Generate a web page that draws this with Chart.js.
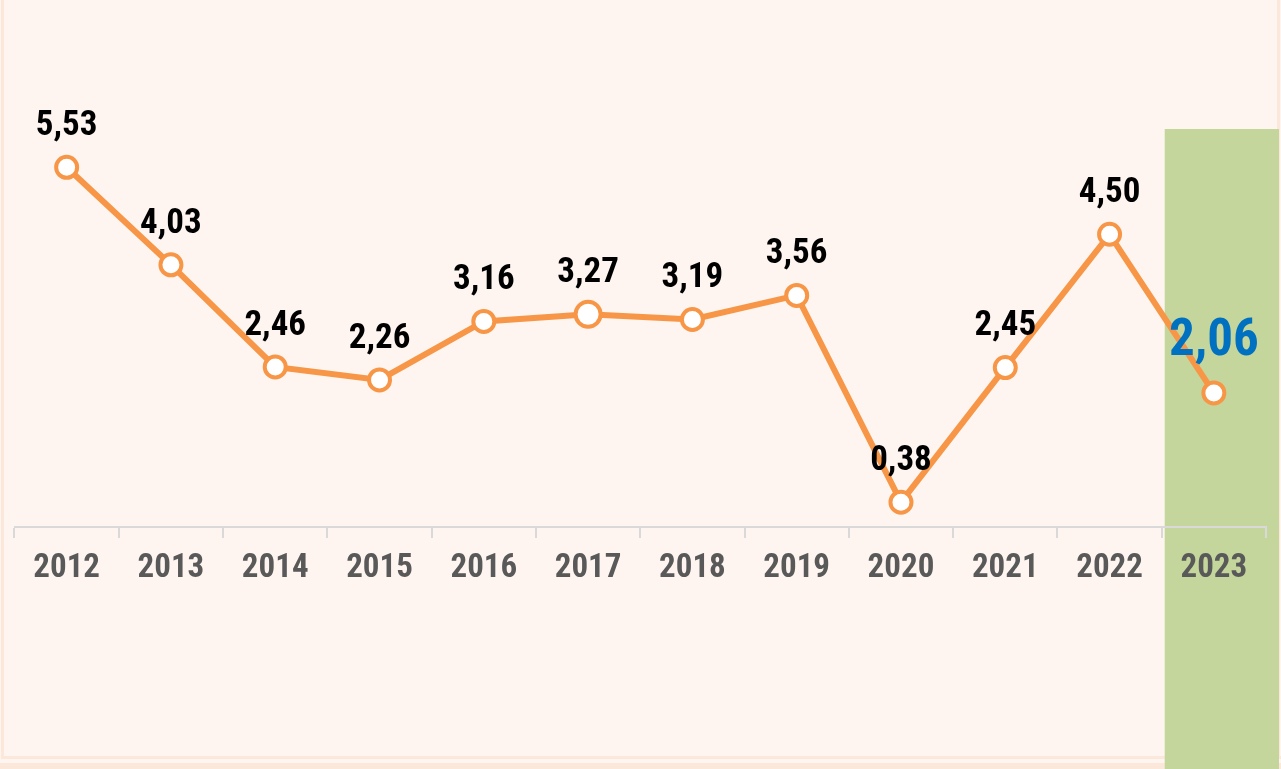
<!DOCTYPE html>
<html>
<head>
<meta charset="utf-8">
<title>2012-2023</title>
<script src="https://cdn.jsdelivr.net/npm/chart.js@4"></script>
<style>
    html, body { margin: 0; padding: 0; background: #fef5f0; overflow: hidden; }
    #wrap { position: relative; width: 1281px; height: 769px; }
</style>
</head>
<body>
<div id="wrap"><canvas id="grafico"></canvas></div>
<script>
// Dados
const anos = ['2012', '2013', '2014', '2015', '2016', '2017', '2018', '2019', '2020', '2021', '2022', '2023'];
const valores = [5.53, 4.03, 2.46, 2.26, 3.16, 3.27, 3.19, 3.56, 0.38, 2.45, 4.50, 2.06];

const fonteNarrow = '"Liberation Sans Narrow", "Arial Narrow", "Roboto Condensed", sans-serif';

function formatar(v) {
    return v.toFixed(2).replace('.', ',');
}

// Fundo, moldura e destaque verde do último ano
const fundoPlugin = {
    id: 'fundo',
    beforeDraw(chart) {
        const ctx = chart.ctx;
        const w = chart.width, h = chart.height;
        ctx.save();
        ctx.fillStyle = '#fef5f0';
        ctx.fillRect(0, 0, w, h);

        // moldura clara
        ctx.fillStyle = '#fce8da';
        ctx.fillRect(1, 0, 3, 759);
        ctx.fillRect(1, 756, w, 3);
        ctx.fillRect(0, 763, w, 6);
        ctx.fillRect(w - 4, 0, 3, 759);

        // destaque do último ano
        const x = chart.scales.x;
        const n = anos.length;
        const inicio = (x.getPixelForValue(n - 2) + x.getPixelForValue(n - 1)) / 2 + 3;
        ctx.fillStyle = '#c4d69b';
        ctx.fillRect(inicio, 129, w - 2 - inicio, h - 129);
        ctx.restore();
    }
};

// Rótulos de valores acima dos pontos
const rotulosPlugin = {
    id: 'rotulos',
    afterDatasetsDraw(chart) {
        const ctx = chart.ctx;
        const meta = chart.getDatasetMeta(0);
        ctx.save();
        ctx.textAlign = 'center';
        ctx.textBaseline = 'middle';
        meta.data.forEach((pt, i) => {
            const ultimo = i === valores.length - 1;
            if (ultimo) {
                ctx.font = 'bold 51px ' + fonteNarrow;
                ctx.fillStyle = '#0070c0';
                ctx.fillText(formatar(valores[i]), pt.x, pt.y - 51);
            } else {
                ctx.font = 'bold 35px ' + fonteNarrow;
                ctx.fillStyle = '#000000';
                ctx.fillText(formatar(valores[i]), pt.x, pt.y - 41);
            }
        });
        ctx.restore();
    }
};

const ctx = document.getElementById('grafico').getContext('2d');
new Chart(ctx, {
    type: 'line',
    data: {
        labels: anos,
        datasets: [{
            data: valores,
            borderColor: '#f79646',
            borderWidth: 6,
            backgroundColor: '#ffffff',
            pointBackgroundColor: '#ffffff',
            pointBorderColor: '#f79646',
            pointBorderWidth: 4,
            pointRadius: c => c.dataIndex === 5 ? 12.5 : 10.5,
            tension: 0,
            fill: false
        }]
    },
    options: {
        responsive: true,
        maintainAspectRatio: false,
        animation: false,
        layout: {
            padding: { left: 13, right: 15, top: 0, bottom: 168.5 }
        },
        plugins: {
            legend: { display: false },
            tooltip: { enabled: false }
        },
        scales: {
            x: {
                offset: true,
                grid: {
                    display: true,
                    offset: true,
                    drawOnChartArea: false,
                    drawTicks: true,
                    tickLength: 11,
                    color: '#d9d9d9',
                    lineWidth: 2
                },
                border: { display: true, color: '#d9d9d9', width: 2 },
                ticks: {
                    color: '#595959',
                    padding: 11.5,
                    font: { family: fonteNarrow, size: 33, weight: 'bold' }
                }
            },
            y: {
                display: false,
                min: 0,
                max: 7.88
            }
        }
    },
    plugins: [fundoPlugin, rotulosPlugin]
});
</script>
</body>
</html>
